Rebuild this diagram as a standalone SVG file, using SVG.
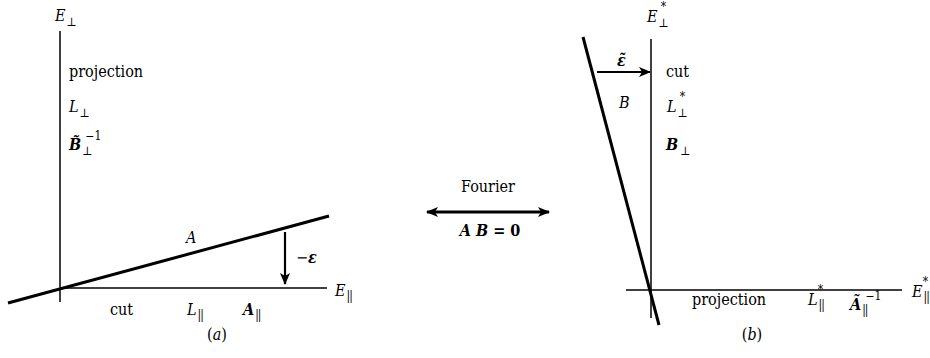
<svg xmlns="http://www.w3.org/2000/svg" width="930" height="358" viewBox="0 0 930 358">
<style>
text{font-family:"DejaVu Serif Condensed","DejaVu Serif",serif;fill:#000;font-size:16px}
.i{font-style:italic}
.b{font-weight:bold}
.bi{font-weight:bold;font-style:italic}
.s{font-size:12px;font-style:normal;font-weight:normal}
.p{font-size:12px;font-style:normal;font-weight:normal;letter-spacing:-1px}
.ax{stroke:#000;stroke-width:1.5;fill:none}
.thick{stroke:#000;stroke-width:3;fill:none}
.arr{stroke:#000;stroke-width:2.2;fill:none}
</style>
<defs>
<marker id="ah" viewBox="0 0 12 10" refX="11" refY="5" markerWidth="12" markerHeight="10" markerUnits="userSpaceOnUse" orient="auto-start-reverse">
<path d="M0,0 L12,5 L0,10 L3,5 z" fill="#000"/>
</marker>
</defs>

<g id="panel-a">
<g id="axes-a">
<line class="ax" x1="60" y1="31" x2="60" y2="302"/>
<line class="ax" x1="60" y1="288" x2="327" y2="288"/>
</g>
<g id="E-perp"><text class="i" x="55" y="21">E<tspan class="s" dx="1" dy="5">⊥</tspan></text></g>
<g id="E-par"><text class="i" x="335" y="296">E<tspan class="p" dx="1" dy="4">||</tspan></text></g>
<g id="line-A"><line class="thick" x1="8" y1="303" x2="329" y2="216"/><text class="i" x="186" y="243">A</text></g>
<text x="69" y="77">projection</text>
<g id="L-perp"><text class="i" x="69" y="112">L<tspan class="s" dx="1" dy="5">⊥</tspan></text></g>
<g id="B-perp-inv"><text class="bi" x="69" y="150">B̃<tspan class="s" dx="1" dy="5">⊥</tspan><tspan class="s" dx="-7" dy="-15">−1</tspan></text></g>
<text x="110" y="315">cut</text>
<g id="L-par"><text class="i" x="187" y="315">L<tspan class="p" dx="1" dy="4">||</tspan></text></g>
<g id="A-par"><text class="bi" x="243" y="315">A<tspan class="p" dx="1" dy="4">||</tspan></text></g>
<text x="217" y="340" text-anchor="middle">(<tspan class="i">a</tspan>)</text>
</g>

<g id="connectors">
<line class="arr" x1="285" y1="232" x2="285" y2="284" marker-end="url(#ah)"/>
<line class="arr" x1="597" y1="72" x2="650" y2="72" marker-end="url(#ah)"/>
<line class="thick" x1="427" y1="212" x2="549" y2="212" marker-start="url(#ah)" marker-end="url(#ah)"/>
</g>
<text x="296" y="263">−<tspan class="bi">ε</tspan></text>

<g id="fourier">
<text x="488" y="192" text-anchor="middle" font-size="15">Fourier</text>
<text class="b" x="490" y="236" text-anchor="middle" font-size="15"><tspan class="bi">A B</tspan> = 0</text>
</g>

<g id="panel-b">
<g id="axes-b">
<line class="ax" x1="651" y1="39" x2="651" y2="318"/>
<line class="ax" x1="626" y1="290" x2="902" y2="290"/>
</g>
<g id="E-perp-star"><text class="i" x="647" y="22">E<tspan class="s" dx="1" dy="5">⊥</tspan><tspan class="s" dx="-8" dy="-16">*</tspan></text></g>
<g id="E-par-star"><text class="i" x="912" y="297">E<tspan class="p" dx="1" dy="4">||</tspan><tspan class="s" dx="-6" dy="-15">*</tspan></text></g>
<g id="line-B"><line class="thick" x1="583" y1="37" x2="659" y2="325"/><text class="i" x="619" y="108">B</text></g>
<g id="eps-tilde"><text class="bi" x="617" y="66">ε̃</text></g>
<text x="666" y="77">cut</text>
<g id="L-perp-star"><text class="i" x="667" y="112">L<tspan class="s" dx="1" dy="5">⊥</tspan><tspan class="s" dx="-8" dy="-16">*</tspan></text></g>
<g id="B-perp"><text class="bi" x="666" y="150">B<tspan class="s" dx="2" dy="5">⊥</tspan></text></g>
<text x="692" y="305">projection</text>
<g id="L-par-star"><text class="i" x="808" y="305">L<tspan class="p" dx="1" dy="4">||</tspan><tspan class="s" dx="-6" dy="-15">*</tspan></text></g>
<g id="A-par-inv"><text class="bi" x="850" y="310">Ã<tspan class="p" dx="1" dy="4">||</tspan><tspan class="s" dx="-2" dy="-14">−1</tspan></text></g>
<text x="752" y="340" text-anchor="middle">(<tspan class="i">b</tspan>)</text>
</g>
</svg>
